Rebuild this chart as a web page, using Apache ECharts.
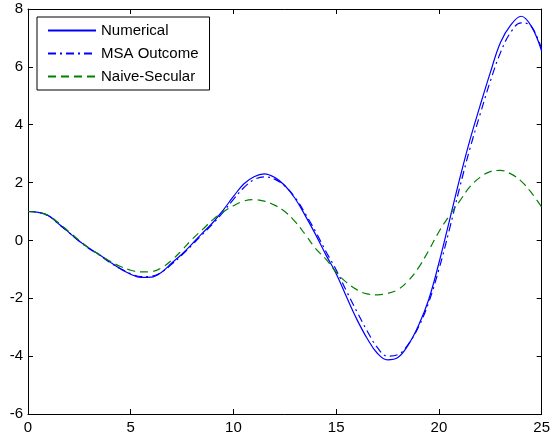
<!DOCTYPE html>
<html>
<head>
<meta charset="utf-8">
<script src="https://cdn.jsdelivr.net/npm/echarts@6/dist/echarts.min.js"></script>
<style>
html,body{margin:0;padding:0;background:#fff;}
#chart{width:553px;height:441px;}
</style>
</head>
<body>
<div id="chart"></div>
<script>
const xValues = [0,0.5,1,1.5,2,2.5,3,3.5,4,4.5,5,5.5,6,6.5,7,7.5,8,8.5,9,9.5,10,10.5,11,11.5,12,12.5,13,13.5,14,14.5,15,15.5,16,16.5,17,17.5,18,18.5,19,19.5,20,20.5,21,21.5,22,22.5,23,23.5,24,24.5,25];
const numerical = [1.00,0.97,0.85,0.57,0.27,-0.03,-0.28,-0.50,-0.75,-0.98,-1.17,-1.28,-1.27,-1.10,-0.78,-0.47,-0.11,0.26,0.62,1.05,1.52,1.95,2.20,2.30,2.18,1.90,1.45,0.85,0.20,-0.50,-1.15,-1.95,-2.72,-3.38,-3.90,-4.13,-4.05,-3.62,-2.95,-2.05,-0.78,0.65,2.10,3.45,4.65,5.80,6.85,7.45,7.75,7.40,6.55];
const msaOutcome = [1.00,0.97,0.85,0.56,0.27,-0.03,-0.30,-0.52,-0.77,-0.98,-1.15,-1.25,-1.24,-1.10,-0.82,-0.50,-0.15,0.22,0.58,0.98,1.42,1.82,2.10,2.20,2.12,1.88,1.48,0.92,0.30,-0.38,-1.02,-1.75,-2.45,-3.12,-3.70,-4.00,-3.95,-3.60,-3.00,-2.15,-1.00,0.35,1.80,3.15,4.35,5.50,6.50,7.20,7.52,7.40,6.60];
const naiveSecular = [1.00,0.97,0.86,0.60,0.30,0.00,-0.28,-0.50,-0.72,-0.90,-1.03,-1.09,-1.08,-0.95,-0.68,-0.33,0.05,0.38,0.72,0.98,1.20,1.36,1.41,1.36,1.22,1.00,0.65,0.20,-0.28,-0.65,-1.10,-1.45,-1.70,-1.85,-1.88,-1.83,-1.70,-1.40,-0.95,-0.35,0.30,0.85,1.35,1.85,2.18,2.38,2.42,2.30,2.05,1.65,1.15];
const seriesNames = ['Numerical','MSA Outcome','Naive-Secular'];
const xTicks = [0,5,10,15,20,25];
const yTicks = [-6,-4,-2,0,2,4,6,8];

function pairs(ys){ return xValues.map((x,i)=>[x,ys[i]]); }

const font = 'Liberation Sans, Arial, sans-serif';
const chart = echarts.init(document.getElementById('chart'), null, {renderer:'canvas'});
const axisCommon = {
  axisLine:{show:true,onZero:false,lineStyle:{color:'#000',width:1}},
  axisTick:{show:true,inside:true,length:5,lineStyle:{color:'#000',width:1}},
  splitLine:{show:false}
};
chart.setOption({
  animation:false,
  backgroundColor:'#fff',
  grid:{left:28,right:9,top:9,bottom:27,containLabel:false},
  legend:{
    orient:'vertical',left:37,top:17,
    padding:[6,11,6,10],itemGap:8,itemWidth:48,itemHeight:14,
    backgroundColor:'#fff',borderColor:'#000',borderWidth:1,borderRadius:0,
    itemStyle:{opacity:0},
    textStyle:{fontFamily:font,fontSize:15,color:'#000'},
    data:seriesNames
  },
  xAxis:[
    Object.assign({type:'value',min:xTicks[0],max:xTicks[xTicks.length-1],interval:5,position:'bottom',
      axisLabel:{color:'#000',fontFamily:font,fontSize:15,margin:6}},axisCommon),
    Object.assign({type:'value',min:xTicks[0],max:xTicks[xTicks.length-1],interval:5,position:'top',
      axisLabel:{show:false}},axisCommon)
  ],
  yAxis:[
    Object.assign({type:'value',min:yTicks[0],max:yTicks[yTicks.length-1],interval:2,position:'left',
      axisLabel:{color:'#000',fontFamily:font,fontSize:15,margin:5}},axisCommon),
    Object.assign({type:'value',min:yTicks[0],max:yTicks[yTicks.length-1],interval:2,position:'right',
      axisLabel:{show:false}},axisCommon)
  ],
  series:[
    {name:seriesNames[0],type:'line',data:pairs(numerical),smooth:0.4,showSymbol:false,symbol:'none',
      lineStyle:{color:'#0000ff',width:1.2,type:'solid'},itemStyle:{color:'#0000ff'}},
    {name:seriesNames[1],type:'line',data:pairs(msaOutcome),smooth:0.4,showSymbol:false,symbol:'none',
      lineStyle:{color:'#0000ff',width:1.2,type:[8,4,2,4]},itemStyle:{color:'#0000ff'}},
    {name:seriesNames[2],type:'line',data:pairs(naiveSecular),smooth:0.4,showSymbol:false,symbol:'none',
      lineStyle:{color:'#008000',width:1.2,type:[8,5]},itemStyle:{color:'#008000'}}
  ]
});
</script>
</body>
</html>
